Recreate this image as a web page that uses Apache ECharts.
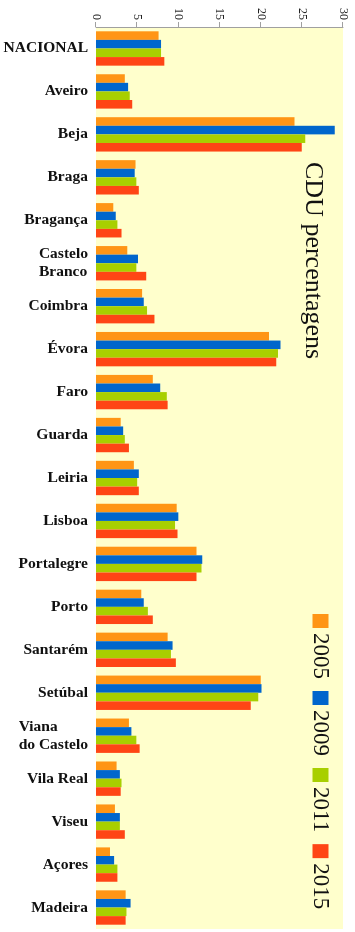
<!DOCTYPE html>
<html><head><meta charset="utf-8">
<script src="https://cdn.jsdelivr.net/npm/echarts@6/dist/echarts.min.js"></script>
<style>
html,body{margin:0;padding:0;background:#fff;overflow:hidden;width:355px;height:932px;}
#chart{position:absolute;left:0;top:0;width:932px;height:355px;transform-origin:0 0;transform:translate(355px,0) rotate(90deg);}
</style></head><body><div id="chart"></div>
<script>
const categories = ['NACIONAL','Aveiro','Beja','Braga','Bragança','Castelo\nBranco','Coimbra','Évora','Faro','Guarda','Leiria','Lisboa','Portalegre','Porto','Santarém','Setúbal','Viana\ndo Castelo','Vila Real','Viseu','Açores','Madeira'];
const years = ['2005','2009','2011','2015'];
const v2005 = [7.6, 3.5, 24.1, 4.8, 2.1, 3.8, 5.6, 21.0, 6.9, 3.0, 4.6, 9.8, 12.2, 5.5, 8.7, 20.0, 4.0, 2.5, 2.3, 1.7, 3.6];
const v2009 = [7.9, 3.9, 29.0, 4.7, 2.4, 5.1, 5.8, 22.4, 7.8, 3.3, 5.2, 10.0, 12.9, 5.8, 9.3, 20.1, 4.3, 2.9, 2.9, 2.2, 4.2];
const v2011 = [7.9, 4.1, 25.4, 4.9, 2.6, 4.9, 6.2, 22.1, 8.6, 3.5, 5.0, 9.6, 12.8, 6.3, 9.1, 19.7, 4.9, 3.1, 2.9, 2.6, 3.7];
const v2015 = [8.3, 4.4, 25.0, 5.2, 3.1, 6.1, 7.1, 21.9, 8.7, 4.0, 5.2, 9.9, 12.2, 6.9, 9.7, 18.8, 5.3, 3.0, 3.5, 2.6, 3.6];
const valueTicks = [0, 5, 10, 15, 20, 25, 30];
const titleText = 'CDU percentagens';

const colors = ['#FF9515', '#0066CC', '#A8CF00', '#FF4515'];
const serif = "'Liberation Serif', 'DejaVu Serif', serif";
const seriesValues = [v2005, v2009, v2011, v2015];

const chart = echarts.init(document.getElementById('chart'), null, {renderer: 'canvas'});
chart.setOption({
  animation: false,
  backgroundColor: '#ffffff',
  color: colors,
  title: {
    text: titleText,
    left: 157, top: 24,
    textStyle: {fontFamily: serif, fontSize: 26, fontWeight: 'normal', color: '#111'}
  },
  legend: {
    data: years,
    left: 609, top: 18,
    icon: 'rect', itemWidth: 14, itemHeight: 16, itemGap: 12,
    textStyle: {fontFamily: serif, fontSize: 23, color: '#111'}
  },
  grid: {
    left: 27, right: 3, top: 12, bottom: 96,
    containLabel: false, outerBoundsMode: 'none',
    show: true, backgroundColor: '#FFFFCC', borderWidth: 0
  },
  xAxis: {
    type: 'category',
    data: categories,
    axisLine: {show: false},
    axisTick: {show: false},
    axisLabel: {
      interval: 0, rotate: 90, margin: 8,
      fontFamily: serif, fontWeight: 'bold', fontSize: 15.5, color: '#111', lineHeight: 18,
      formatter: function (v) {
        return v.indexOf('\n') >= 0 ? v.split('\n').map(function (s) { return '{l|' + s + '}'; }).join('\n') : v;
      },
      rich: {l: {align: 'left', fontFamily: serif, fontWeight: 'bold', fontSize: 15.5, color: '#111', lineHeight: 18}}
    }
  },
  yAxis: {
    type: 'value',
    min: valueTicks[0], max: valueTicks[valueTicks.length - 1], interval: valueTicks[1] - valueTicks[0],
    axisLine: {show: true, lineStyle: {color: '#A0A0A0'}},
    axisTick: {show: true, length: 5, lineStyle: {color: '#A0A0A0'}},
    splitLine: {show: false},
    axisLabel: {fontFamily: serif, fontSize: 12, color: '#222', margin: 7}
  },
  series: years.map(function (y, i) {
    return {
      name: y, type: 'bar', data: seriesValues[i],
      barGap: '0%', barCategoryGap: '20%'
    };
  })
});
</script></body></html>
